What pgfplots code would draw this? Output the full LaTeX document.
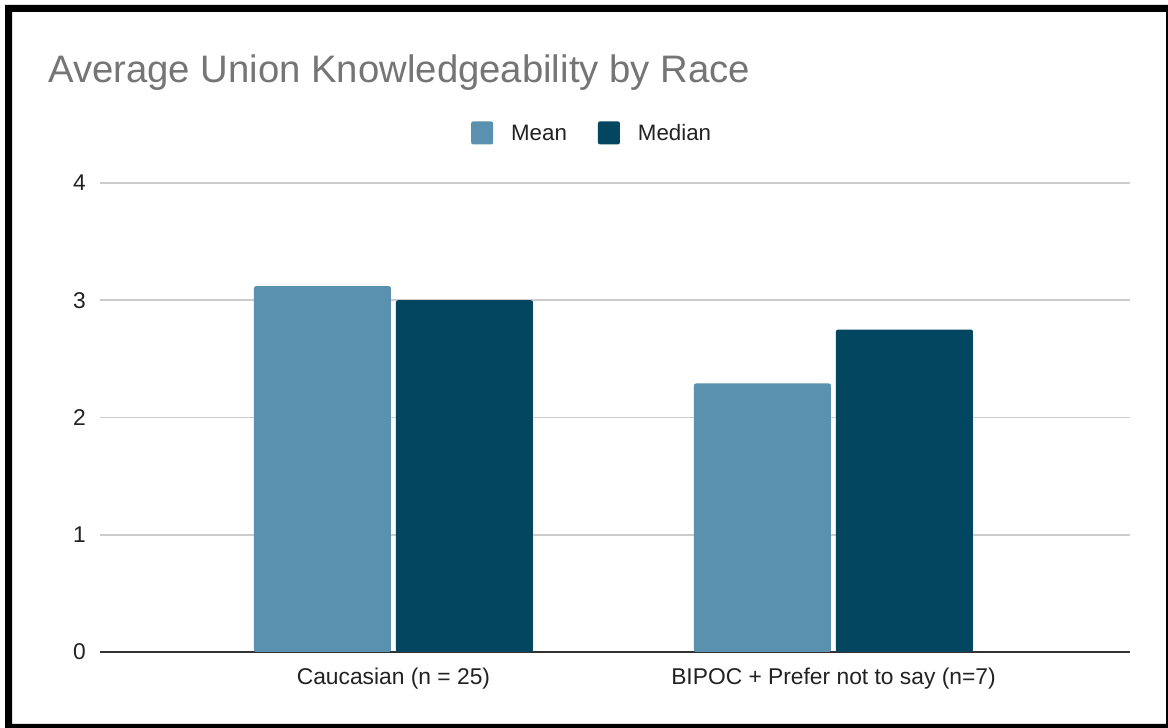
\documentclass[border=0pt]{standalone}
\usepackage{pgfplots}
\pgfplotsset{compat=1.18}
\usepackage{fontspec}
\setmainfont{Liberation Sans}

\definecolor{meanblue}{HTML}{5A91AE}
\definecolor{medianblue}{HTML}{024660}
\definecolor{titlegray}{HTML}{757575}
\definecolor{textdark}{HTML}{222222}
\definecolor{gridgray}{HTML}{CCCCCC}
\definecolor{axisgray}{HTML}{333333}

\begin{document}
\begin{tikzpicture}[x=1pt,y=1pt]
  % page area and black frame
  \useasboundingbox (0,0) rectangle (1168,728);
  \fill[white] (0,0) rectangle (1168,728);
  \fill[black,even odd rule] (5,-10) rectangle (1180,723)
                             (12,4) rectangle (1166,716);

  % chart title
  \node[anchor=base west, inner sep=0pt, text=titlegray,
        font=\fontsize{38.3}{46}\selectfont] at (48,645)
        {Average Union Knowledgeability by Race};

  \begin{axis}[
    at={(100pt,76pt)}, anchor=south west,
    scale only axis, width=1030pt, height=469pt,
    xmin=-0.667, xmax=1.674, ymin=0, ymax=4,
    ytick={0,1,2,3,4},
    xtick={0,1},
    xticklabels={Caucasian (n = 25), BIPOC + Prefer not to say (n=7)},
    major tick length=0pt,
    axis lines*=left,
    separate axis lines,
    y axis line style={draw=none},
    x axis line style={-, color=axisgray, line width=1.6pt},
    ymajorgrids,
    grid style={color=gridgray, line width=1.6pt},
    /pgf/number format/assume math mode=true,
    tick label style={text=textdark, font=\fontsize{22.8}{27}\selectfont},
    yticklabel style={anchor=east, inner sep=0pt, xshift=-14pt},
    xticklabel style={anchor=base, inner sep=0pt, yshift=-33pt},
    ybar,
    bar width=137pt,
    legend columns=2,
    legend style={
      at={(rel axis cs:0.332,1.1068)}, anchor=west,
      draw=none, fill=none, inner xsep=0pt, inner ysep=0pt,
      cells={anchor=base west},
      nodes={text depth=0pt},
      font=\fontsize{22.3}{27}\selectfont, text=textdark,
    },
    legend image code/.code={
      \path (-29pt,0pt);
      \fill[#1, rounded corners=2pt] (0pt,-4pt) rectangle (22pt,19pt);
      \path (38pt,0pt);
    },
  ]
    \addplot[fill=meanblue, draw=none, rounded corners=2pt, bar shift=-71pt]
      coordinates {(0,3.12) (1,2.29)};
    \addlegendentry{Mean}
    \addplot[fill=medianblue, draw=none, rounded corners=2pt, bar shift=71pt]
      coordinates {(0,3.00) (1,2.75)};
    \addlegendentry{Median}
  \end{axis}
\end{tikzpicture}
\end{document}
